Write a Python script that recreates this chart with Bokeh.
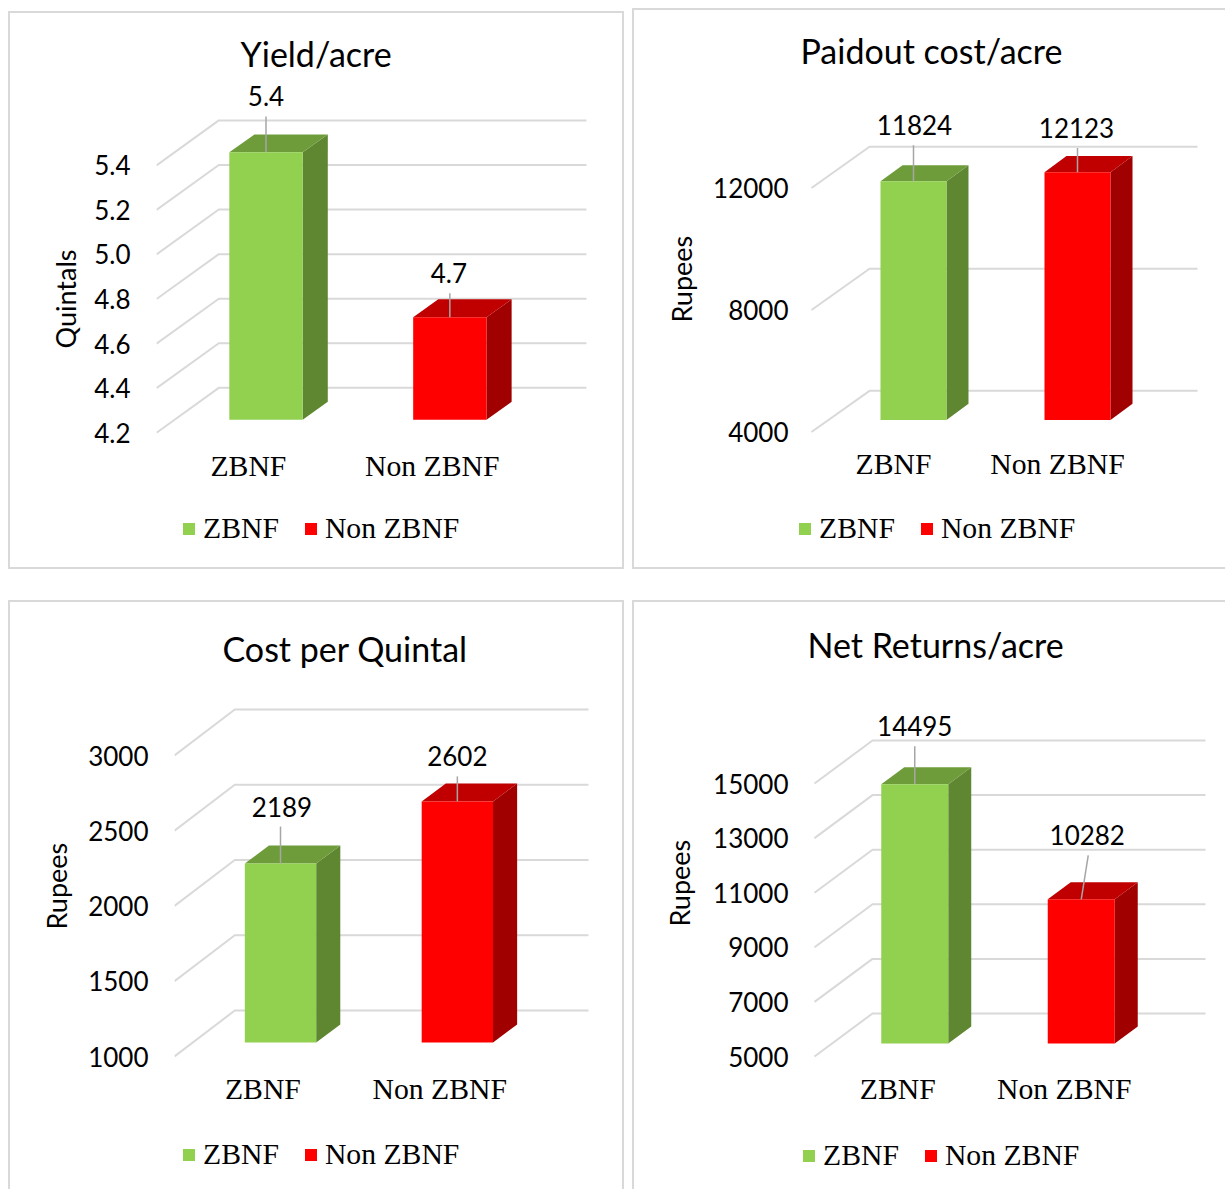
from bokeh.embed import file_html
from bokeh.resources import INLINE
from bokeh.layouts import column, row
from bokeh.models import (FixedTicker, Legend, LegendItem, NumeralTickFormatter, Range1d, Title)
from bokeh.plotting import figure
from bokeh.core.properties import value

categories = ["ZBNF", "Non ZBNF"]
face_colors = ["#92D050", "#FF0000"]
side_colors = ["#5F8731", "#A00000"]
top_colors = ["#6F9C3A", "#C00000"]

yield_values = [5.4, 4.66]
yield_labels = ["5.4", "4.7"]
yield_ticks = [4.2, 4.4, 4.6, 4.8, 5.0, 5.2, 5.4]
paidout_values = [11824, 12123]
paidout_labels = ["11824", "12123"]
paidout_ticks = [4000, 8000, 12000]
cost_values = [2189, 2602]
cost_labels = ["2189", "2602"]
cost_ticks = [1000, 1500, 2000, 2500, 3000]
returns_values = [14495, 10282]
returns_labels = ["14495", "10282"]
returns_ticks = [5000, 7000, 9000, 11000, 13000, 15000]

SANS = "Lato"
SERIF = "Liberation Serif"
GRID = "#D9D9D9"
BW = 2


def panel(title, ylabel, values, labels, ticks, fmt, box, fl, x0, spacing, floor_y, top_y, depth,
          bar, frame_tb, title_x, title_standoff, ytitle, tick_standoff, x_standoff,
          label_off, leg_xy, right_border=True, bottom_border=True):
    L, T, R, B = box
    ddx, ddy = depth
    bar_off, bar_w, bar_base, bdx, bdy = bar
    ft, fb = frame_tb
    vmin, vmax = ticks[0], ticks[-1]
    k = (floor_y - top_y) / (vmax - vmin)
    fr = int(round(x0 + 2 * spacing + ddx + 6))

    ux = lambda px: px / spacing
    uy = lambda px: px / k
    X = lambda px: -0.5 + (px - x0) / spacing
    Y = lambda py: vmin + (floor_y - py) / k

    border = {"border-top": f"{BW}px solid {GRID}", "border-left": f"{BW}px solid {GRID}",
              "box-sizing": "border-box"}
    br = BW if right_border else 0
    bb = BW if bottom_border else 0
    if right_border:
        border["border-right"] = f"{BW}px solid {GRID}"
    if bottom_border:
        border["border-bottom"] = f"{BW}px solid {GRID}"

    p = figure(width=R - L, height=B - T, output_backend="svg", toolbar_location=None,
               x_range=Range1d(X(fl), X(fr)), y_range=Range1d(Y(fb), Y(ft)),
               min_border_left=fl - L - 4, min_border_right=R - fr - br + 4,
               min_border_top=ft - T - 4, min_border_bottom=B - fb - bb + 4,
               outline_line_color=None, styles=border)
    p.grid.visible = False

    p.title.text = title
    p.title.align = "left"
    p.title.offset = title_x - fl
    p.title.standoff = title_standoff
    p.title.text_font = SANS
    p.title.text_font_size = "34px"
    p.title.text_font_style = "normal"
    p.title.text_color = "#000000"

    # floor-to-wall gridlines
    dxu, dyu = ux(ddx), uy(ddy)
    xl = -0.5
    xr = 1.5 + dxu
    p.multi_line([[xl, xl + dxu, xr] for _ in ticks],
                 [[t, t + dyu, t + dyu] for t in ticks],
                 line_color=GRID, line_width=2)

    items = []
    for i, (cat, v, text) in enumerate(zip(categories, values, labels)):
        cx = i + ux(bar_off)
        hw = ux(bar_w) / 2
        base = vmin + uy(bar_base)
        top = v + uy(bar_base)
        bx, by = ux(bdx), uy(bdy)
        p.patch([cx + hw, cx + hw, cx + hw + bx, cx + hw + bx],
                [base, top, top + by, base + by], fill_color=side_colors[i], line_color=None)
        p.patch([cx - hw, cx + hw, cx + hw + bx, cx - hw + bx],
                [top, top, top + by, top + by], fill_color=top_colors[i], line_color=None)
        face = p.quad(left=[cx - hw], right=[cx + hw], bottom=[base], top=[top],
                      fill_color=face_colors[i], line_color=None)
        items.append(LegendItem(label=cat, renderers=[face]))
        # data label with its leader line
        (lx, ly, lead_x, lead_gap) = label_off[i]
        label_v = top + uy(ly)
        p.segment([cx], [top], [cx + ux(lead_x)], [label_v - uy(lead_gap)],
                  line_color="#A6A6A6", line_width=1.5)
        p.text([cx + ux(lx)], [label_v], text=[text], text_align="center", text_baseline="middle",
               text_font=value(SANS), text_font_size="26px", text_color="#000000")

    yax = p.yaxis[0]
    yax.ticker = FixedTicker(ticks=ticks)
    yax.formatter = NumeralTickFormatter(format=fmt)
    yax.axis_line_color = None
    yax.major_tick_line_color = None
    yax.minor_tick_line_color = None
    yax.major_tick_out = 0
    yax.major_label_standoff = tick_standoff
    yax.major_label_text_font = SANS
    yax.major_label_text_font_size = "26px"
    yax.major_label_text_color = "#000000"

    xax = p.xaxis[0]
    xax.ticker = FixedTicker(ticks=[0, 1])
    xax.major_label_overrides = {0: categories[0], 1: categories[1]}
    xax.axis_line_color = None
    xax.major_tick_line_color = None
    xax.minor_tick_line_color = None
    xax.major_tick_out = 0
    xax.major_label_standoff = x_standoff
    xax.major_label_text_font = SERIF
    xax.major_label_text_font_size = "29.7px"
    xax.major_label_text_color = "#000000"

    p.add_layout(Title(text=ylabel, align="left", offset=ytitle[0], standoff=ytitle[1],
                       text_font=SANS, text_font_size="27px", text_font_style="normal",
                       text_color="#000000"), "left")

    leg = Legend(items=items, orientation="horizontal", location=(leg_xy[0] - fl, leg_xy[1]),
                 glyph_width=15, glyph_height=15, label_standoff=7, spacing=24, padding=0, margin=0,
                 border_line_color=None, background_fill_alpha=0,
                 label_text_font=SERIF, label_text_font_size="29.7px", label_text_color="#000000")
    p.add_layout(leg, "center")
    return p


p1 = panel("Yield/acre", "Quintals", yield_values, yield_labels, yield_ticks, "0.0",
           (8, 11, 624, 569), 158, 158, 183, 432, 164, (62, 45), (17.5, 73, 13, 25, 18),
           (78, 555), 242, 11, (207, 20), 26, -106,
           [(0, 56, 0, 20), (-1, 44, 0, 20)], (183, 10))
p2 = panel("Paidout cost/acre", "Rupees", paidout_values, paidout_labels, paidout_ticks, "0",
           (632, 8, 1225, 569), 795, 813, 164, 432, 189, (58, 41), (20, 66, 12, 22, 16),
           (78, 555), 802, 12, (233, 26), 5, -108,
           [(1, 56, 0, 20), (-1, 44, 0, 20)], (799, 10), right_border=False)
p3 = panel("Cost per Quintal", "Rupees", cost_values, cost_labels, cost_ticks, "0",
           (8, 600, 624, 1189), 176, 176, 176, 1058, 757, (60, 46), (17.5, 71, 14, 24, 18),
           (675, 1175), 224, 9, (244, 25), 26, -101,
           [(1.5, 57, 0, 20), (0, 45, 0, 20)], (183, 2), bottom_border=False)
p4 = panel("Net Returns/acre", "Rupees", returns_values, returns_labels, returns_ticks, "0",
           (632, 600, 1225, 1189), 799, 816, 166.5, 1058, 785, (58, 43), (17, 67, 13, 23, 17),
           (675, 1175), 809, 18, (247, 30), 9, -101,
           [(0, 58, 0, 20), (6, 64, 7, 20)], (803, 1), right_border=False, bottom_border=False)

p1.margin = (11, 8, 0, 8)
p2.margin = (8, 0, 0, 0)
p3.margin = (31, 8, 0, 8)
p4.margin = (31, 0, 0, 0)

page = column(row(p1, p2), row(p3, p4))
open("out.html", "w").write(file_html(page, INLINE))
